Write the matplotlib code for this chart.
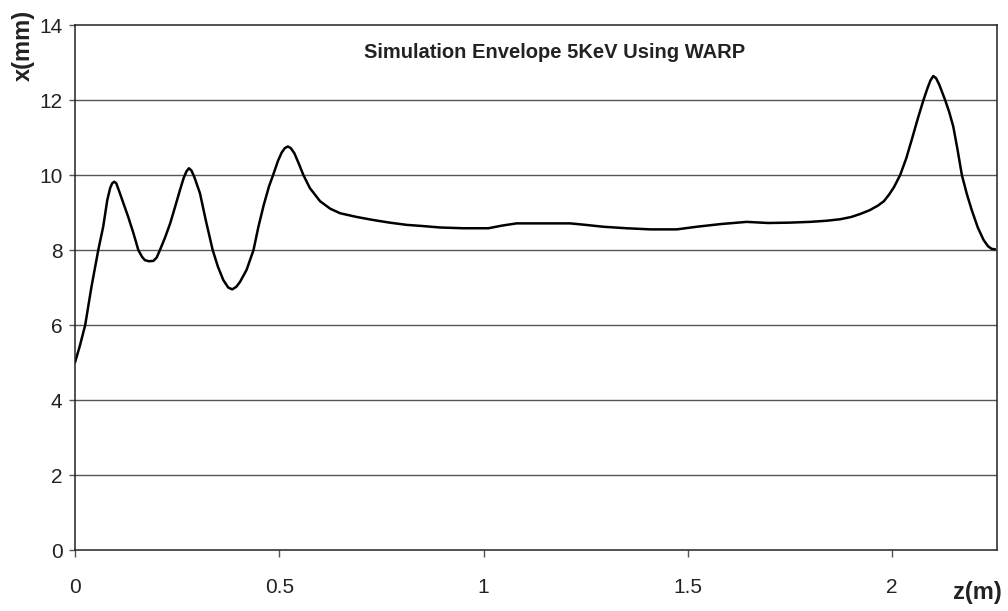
import matplotlib
matplotlib.use("Agg")
import matplotlib.pyplot as plt

plt.rcParams['font.family'] = ['Liberation Sans', 'DejaVu Sans']

# Beam envelope x(mm) along the transport line z(m)
z_m = [0.000, 0.012, 0.025, 0.040, 0.057, 0.069, 0.079, 0.086, 0.091, 0.096,
       0.101, 0.110, 0.120, 0.130, 0.143, 0.155, 0.164, 0.171, 0.181, 0.192,
       0.200, 0.208, 0.220, 0.233, 0.245, 0.257, 0.266, 0.273, 0.279, 0.285,
       0.292, 0.306, 0.320, 0.337, 0.350, 0.363, 0.375, 0.385, 0.395, 0.404,
       0.420, 0.437, 0.449, 0.462, 0.475, 0.485, 0.497, 0.506, 0.514, 0.521,
       0.528, 0.537, 0.548, 0.559, 0.575, 0.600, 0.625, 0.649, 0.690, 0.730,
       0.770, 0.812, 0.850, 0.894, 0.950, 1.012, 1.045, 1.081, 1.150, 1.212,
       1.250, 1.293, 1.350, 1.408, 1.473, 1.522, 1.579, 1.644, 1.697, 1.750,
       1.799, 1.840, 1.873, 1.900, 1.922, 1.945, 1.965, 1.980, 1.993, 2.005,
       2.020, 2.035, 2.048, 2.063, 2.077, 2.087, 2.094, 2.101, 2.108, 2.116,
       2.123, 2.130, 2.140, 2.150, 2.160, 2.171, 2.183, 2.195, 2.210, 2.224,
       2.235, 2.244, 2.252]
x_mm = [5.00, 5.45, 6.00, 7.00, 8.00, 8.62, 9.33, 9.65, 9.78, 9.82,
        9.78, 9.51, 9.20, 8.89, 8.45, 8.00, 7.82, 7.73, 7.70, 7.71,
        7.80, 8.00, 8.32, 8.71, 9.15, 9.60, 9.92, 10.10, 10.18, 10.12,
        9.95, 9.51, 8.80, 8.00, 7.55, 7.20, 7.00, 6.95, 7.02, 7.15,
        7.47, 8.00, 8.62, 9.20, 9.70, 10.00, 10.38, 10.60, 10.72, 10.76,
        10.72, 10.58, 10.30, 10.00, 9.65, 9.30, 9.10, 8.98, 8.88, 8.80,
        8.73, 8.67, 8.64, 8.60, 8.58, 8.58, 8.65, 8.71, 8.71, 8.71,
        8.67, 8.62, 8.58, 8.55, 8.55, 8.62, 8.69, 8.75, 8.72, 8.73,
        8.75, 8.78, 8.82, 8.88, 8.96, 9.06, 9.18, 9.30, 9.48, 9.68,
        10.00, 10.45, 10.93, 11.50, 12.00, 12.32, 12.52, 12.64, 12.58, 12.40,
        12.20, 12.00, 11.68, 11.29, 10.70, 10.00, 9.50, 9.07, 8.60, 8.27,
        8.10, 8.03, 8.02]

x_ticks = [0, 0.5, 1, 1.5, 2]
x_tick_labels = ['0', '0.5', '1', '1.5', '2']
y_ticks = [0, 2, 4, 6, 8, 10, 12, 14]
y_tick_labels = ['0', '2', '4', '6', '8', '10', '12', '14']

fig = plt.figure(figsize=(10.08, 6.11), dpi=100)
ax = fig.add_axes([75/1008, 1 - 550/611, 922/1008, 525/611])

ax.plot(z_m, x_mm, color='black', linewidth=1.8,
        solid_joinstyle='round', solid_capstyle='round')

ax.set_xlim(0, 2.257)
ax.set_ylim(0, 14)
ax.set_xticks(x_ticks)
ax.set_xticklabels(x_tick_labels)
ax.set_yticks(y_ticks)
ax.set_yticklabels(y_tick_labels)

for yv in y_ticks[1:-1]:
    ax.axhline(yv, color='#555555', linewidth=1.0, zorder=0)

for s in ax.spines.values():
    s.set_color('#222222')
    s.set_linewidth(1.1)

ax.tick_params(axis='x', direction='out', length=5, width=1, color='#555555',
               labelsize=15, pad=15, labelcolor='#222222')
ax.tick_params(axis='y', direction='out', length=4, width=1, color='#555555',
               labelsize=15, pad=5, labelcolor='#222222')

ax.text(0.52, 0.947, 'Simulation Envelope 5KeV Using WARP', transform=ax.transAxes,
        ha='center', va='center', fontsize=14.5, fontweight='bold', color='#222222')

fig.text(23/1008, 1 - 45/611, 'x(mm)', rotation=90, ha='center', va='center',
         fontsize=17, fontweight='bold', color='#222222')
fig.text(977/1008, 1 - 593/611, 'z(m)', ha='center', va='center',
         fontsize=17, fontweight='bold', color='#222222')

fig.savefig('out.png', dpi=100, facecolor='white')
